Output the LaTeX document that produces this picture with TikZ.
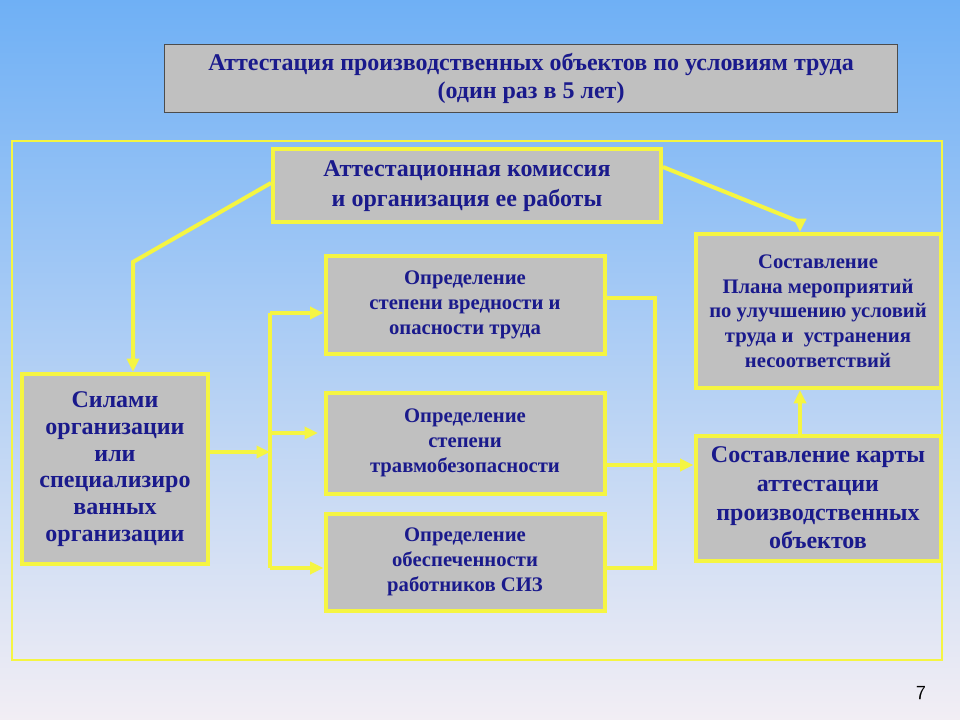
\documentclass[tikz,border=0pt]{standalone}
\usepackage{fontspec}
\setmainfont{Liberation Serif}
\usetikzlibrary{arrows.meta}
\definecolor{frameyel}{HTML}{F5F542}
\definecolor{boxgray}{HTML}{C0C0C0}
\definecolor{ink}{HTML}{1A1A8C}
\definecolor{skytop}{HTML}{6FB0F5}
\definecolor{skybot}{HTML}{F2EEF4}

\begin{document}
\begin{tikzpicture}[
    x=0.75pt, y=-0.75pt,
    box/.style={draw=frameyel, line width=3pt, fill=boxgray, text=ink, font=\bfseries, align=center, inner sep=0pt},
    arr/.style={-{Triangle[length=10pt,width=9pt]}, draw=frameyel, line width=3pt},
    lnk/.style={draw=frameyel, line width=3pt}
  ]
  \shade[top color=skytop, bottom color=skybot] (0,0) rectangle (960,720);
  \useasboundingbox (0,0) rectangle (960,720);

  \node[draw=black!70, fill=boxgray, thick, minimum width=733*0.75pt, minimum height=68*0.75pt, text=ink, font=\bfseries\fontsize{18}{21}\selectfont, align=center, anchor=north west] (title) at (164,44) {Аттестация производственных объектов по условиям труда\\(один раз в 5 лет)};
  \draw[frameyel, line width=0.8pt] (12,141) rectangle (942,660);

  \node[box, minimum width=388*0.75pt, minimum height=73*0.75pt, font=\bfseries\fontsize{18}{22}\selectfont] (komis) at (467,186) {Аттестационная комиссия\\и организация ее работы};
  \node[box, minimum width=186*0.75pt, minimum height=190*0.75pt, font=\bfseries\fontsize{18}{20}\selectfont] (sily) at (115,469) {Силами\\организации\\или\\специализиро\\ванных\\организации};
  \node[box, minimum width=279*0.75pt, minimum height=98*0.75pt, font=\bfseries\fontsize{15.5}{19}\selectfont] (opr1) at (465,305) {Определение\\степени вредности и\\опасности труда};
  \node[box, minimum width=279*0.75pt, minimum height=101*0.75pt, font=\bfseries\fontsize{15.5}{19}\selectfont] (opr2) at (465,443) {Определение\\степени\\травмобезопасности};
  \node[box, minimum width=279*0.75pt, minimum height=97*0.75pt, font=\bfseries\fontsize{15.5}{19}\selectfont] (opr3) at (465,562) {Определение\\обеспеченности\\работников СИЗ};
  \node[box, minimum width=245*0.75pt, minimum height=154*0.75pt, font=\bfseries\fontsize{15.5}{18.5}\selectfont] (plan) at (818,311) {Составление\\Плана мероприятий\\по улучшению условий\\труда и\ \ устранения\\несоответствий};
  \node[box, minimum width=245*0.75pt, minimum height=125*0.75pt, font=\bfseries\fontsize{18}{21.5}\selectfont] (karta) at (818,498) {Составление карты\\аттестации\\производственных\\объектов};

  \coordinate (kl) at (133,262);
  \coordinate (kr) at (800,222);
  \coordinate (fork) at (270,452);
  \coordinate (join) at (655,298);

  \draw[arr] (komis.west |- 0,183) -- (kl) -- (sily.north -| kl);
  \draw[arr] (komis.east |- 0,167) -- (kr) -- (plan.north -| kr);
  \draw[arr] (sily.east |- fork) -- (fork);
  \draw[lnk] (270,313) -- (270,568);
  \draw[arr] (270,313) -- (opr1.west |- 0,313);
  \draw[arr] (270,433) -- (318,433);
  \draw[arr] (270,568) -- (opr3.west |- 0,568);
  \draw[lnk] (opr1.east |- join) -- (join) -- (655,568) -- (opr3.east |- 0,568);
  \draw[arr] (opr2.east |- 0,465) -- (karta.west |- 0,465);
  \draw[arr] (karta.north -| 800,0) -- (plan.south -| 800,0);

  \node[font=\sffamily\fontsize{15}{15}\selectfont] (pagenum) at (921,693) {7};
\end{tikzpicture}
\end{document}
